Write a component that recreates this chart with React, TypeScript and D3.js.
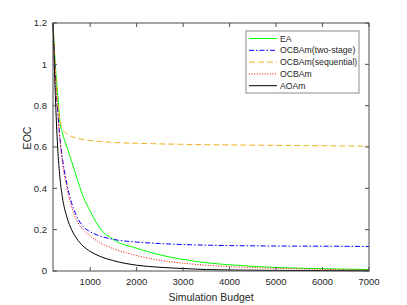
import React from "react";
import * as d3 from "d3";

const W = 407, H = 305;
const M = { left: 53, right: 38, top: 23, bottom: 34 };

const budgets = [200, 250, 300, 350, 400, 500, 600, 700, 850, 1000, 1200, 1500, 2000, 2500, 3000, 3500, 4000, 5000, 6000, 7000];
const eaVals = [1.2, 1.0, 0.86, 0.72, 0.67, 0.6, 0.53, 0.46, 0.36, 0.29, 0.21, 0.152, 0.11, 0.078, 0.056, 0.04, 0.03, 0.017, 0.011, 0.007];
const twoStageVals = [1.2, 0.95, 0.78, 0.64, 0.55, 0.42, 0.33, 0.27, 0.215, 0.19, 0.17, 0.153, 0.14, 0.133, 0.128, 0.125, 0.123, 0.121, 0.12, 0.119];
const sequentialVals = [1.2, 0.98, 0.82, 0.73, 0.69, 0.663, 0.651, 0.643, 0.636, 0.631, 0.627, 0.622, 0.618, 0.615, 0.613, 0.611, 0.61, 0.608, 0.606, 0.604];
const ocbamVals = [1.2, 0.95, 0.78, 0.63, 0.53, 0.4, 0.31, 0.25, 0.2, 0.17, 0.138, 0.108, 0.075, 0.052, 0.038, 0.028, 0.021, 0.013, 0.008, 0.005];
const aoamVals = [1.2, 0.85, 0.6, 0.45, 0.36, 0.26, 0.2, 0.16, 0.12, 0.095, 0.072, 0.05, 0.028, 0.018, 0.012, 0.007, 0.005, 0.003, 0.002, 0.001];

const seriesNames = ["EA", "OCBAm(two-stage)", "OCBAm(sequential)", "OCBAm", "AOAm"];
const seriesVals = [eaVals, twoStageVals, sequentialVals, ocbamVals, aoamVals];
const colors = ["#00ff00", "#0000ff", "#edb120", "#ff0000", "#000000"];
const dashes = ["", "5,2,1.5,2", "6,3", "1,1.6", ""];

const xTicks = [1000, 2000, 3000, 4000, 5000, 6000, 7000];
const yTicks = [0, 0.2, 0.4, 0.6, 0.8, 1, 1.2];

const font = "'Liberation Sans', Arial, sans-serif";
const axisColor = "#4d4d4d";

export default function App() {
  const x = d3.scaleLinear().domain([200, 7000]).range([M.left, W - M.right]);
  const y = d3.scaleLinear().domain([0, 1.2]).range([H - M.bottom, M.top]);
  const line = d3.line<number>()
    .x((_, i) => x(budgets[i]))
    .y(d => y(d))
    .curve(d3.curveMonotoneX);

  const x0 = x.range()[0], x1 = x.range()[1];
  const y0 = y.range()[0], y1 = y.range()[1];
  const tl = 4;

  // legend box
  const lx = 246, ly = 31, lw = 113, lh = 62, rowH = 11.8;

  return (
    <svg width={W} height={H} style={{ position: "absolute", left: 0, top: 0, background: "#fff" }} fontFamily={font}>
      <rect x={0} y={0} width={W} height={H} fill="#fff" />
      <g fill="none" strokeWidth={1}>
        {seriesVals.map((vals, i) => (
          <path key={i} d={line(vals) || ""} stroke={colors[i]} strokeDasharray={dashes[i]} />
        ))}
      </g>
      {/* axes box */}
      <rect x={x0} y={y1} width={x1 - x0} height={y0 - y1} fill="none" stroke={axisColor} strokeWidth={1} />
      {xTicks.map(t => (
        <g key={t}>
          <line x1={x(t)} x2={x(t)} y1={y0} y2={y0 - tl} stroke={axisColor} />
          <line x1={x(t)} x2={x(t)} y1={y1} y2={y1 + tl} stroke={axisColor} />
          <text x={x(t)} y={y0 + 14} textAnchor="middle" fontSize={9.5} fill="#262626">{t}</text>
        </g>
      ))}
      {yTicks.map(t => (
        <g key={t}>
          <line x1={x0} x2={x0 + tl} y1={y(t)} y2={y(t)} stroke={axisColor} />
          <line x1={x1} x2={x1 - tl} y1={y(t)} y2={y(t)} stroke={axisColor} />
          <text x={x0 - 6} y={y(t) + 3.4} textAnchor="end" fontSize={9.5} fill="#262626">{t}</text>
        </g>
      ))}
      <text x={(x0 + x1) / 2} y={H - 4} textAnchor="middle" fontSize={10.5} fill="#262626">Simulation Budget</text>
      <text transform={`translate(31,138) rotate(-90)`} textAnchor="middle" fontSize={10.5} fill="#262626">EOC</text>
      {/* legend */}
      <rect x={lx} y={ly} width={lw} height={lh} fill="#fff" stroke="#8c8c8c" strokeWidth={1} />
      {seriesNames.map((n, i) => {
        const ry = ly + 7.5 + i * rowH;
        return (
          <g key={n}>
            <line x1={lx + 3} x2={lx + 31} y1={ry} y2={ry} stroke={colors[i]} strokeDasharray={dashes[i]} strokeWidth={1} />
            <text x={lx + 34} y={ry + 3.1} fontSize={8.7} fill="#262626">{n}</text>
          </g>
        );
      })}
    </svg>
  );
}
